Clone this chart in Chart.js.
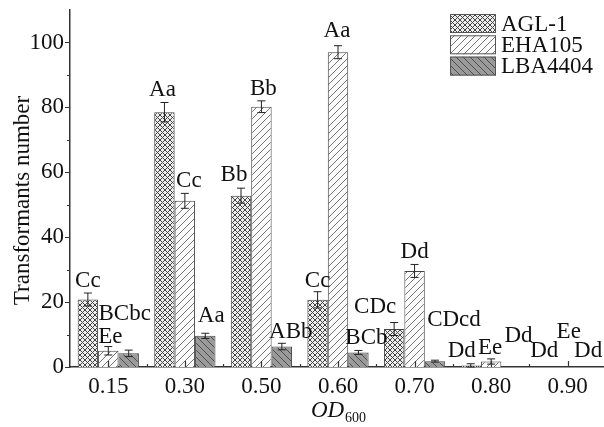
<!DOCTYPE html>
<html>
<head>
<meta charset="utf-8">
<script src="https://cdn.jsdelivr.net/npm/chart.js@4"></script>
<style>
  html, body { margin: 0; padding: 0; background: #fff; overflow: hidden; }
  #wrap { width: 606px; height: 427px; }
</style>
</head>
<body>
<div id="wrap"><canvas id="odChart"></canvas></div>
<script>
// OD600 values (x categories)
const categories = ['0.15', '0.30', '0.50', '0.60', '0.70', '0.80', '0.90'];

// transformants number, means and error bars
const aglValues = [20.8, 78.5, 52.8, 20.7, 11.7, 0.5, 0];
const aglErrors = [2.0, 3.0, 2.3, 2.5, 2.0, 0.5, 0];
const ehaValues = [5.0, 51.2, 80.2, 97.0, 29.6, 1.7, 0];
const ehaErrors = [1.3, 2.3, 1.8, 2.0, 2.0, 0.8, 0];
const lbaValues = [4.2, 9.6, 6.3, 4.5, 1.8, 0, 0];
const lbaErrors = [1.0, 0.8, 1.0, 0.6, 0.3, 0, 0];

// significance letters
const aglLetters = ['Cc', 'Aa', 'Bb', 'Cc', 'CDc', 'Dd', 'Dd'];
const ehaLetters = ['Ee', 'Cc', 'Bb', 'Aa', 'Dd', 'Ee', 'Ee'];
const lbaLetters = ['BCbc', 'Aa', 'ABb', 'BCb', 'CDcd', 'Dd', 'Dd'];

const yTicks = [0, 20, 40, 60, 80, 100];

// nudges for the letters (px), kept apart from the data
const letterNudge = [
  [[0, 0], [-2, 0], [-7, -1], [0, 1], [-19, -4], [-9, -1], [-3, -4]],
  [[2, 2], [4, 0], [2, 0], [-1, -3], [0, 0], [-1, 1], [1, -23]],
  [[-4, -24], [6, -5], [9, 1], [8, 0], [19, -28], [7, -19], [0, -4]]
];

const FONT = "'Liberation Serif', 'Times New Roman', serif";
const FS = 23;

function makePattern(bg, line, size, kind) {
  const c = document.createElement('canvas');
  c.width = c.height = size;
  const g = c.getContext('2d');
  g.fillStyle = bg;
  g.fillRect(0, 0, size, size);
  g.strokeStyle = line;
  g.lineWidth = 1;
  g.beginPath();
  if (kind === 'slash' || kind === 'cross') {
    g.moveTo(-1, size + 1); g.lineTo(size + 1, -1);
    g.moveTo(-1, 1); g.lineTo(1, -1);
    g.moveTo(size - 1, size + 1); g.lineTo(size + 1, size - 1);
  }
  if (kind === 'back' || kind === 'cross') {
    g.moveTo(-1, -1); g.lineTo(size + 1, size + 1);
    g.moveTo(size - 1, -1); g.lineTo(size + 1, 1);
    g.moveTo(-1, size - 1); g.lineTo(1, size + 1);
  }
  g.stroke();
  return g.createPattern(c, 'repeat');
}

const aglFill = makePattern('#eeeeee', '#444', 5, 'cross');
const ehaFill = makePattern('#fcfcfc', '#777', 7, 'slash');
const lbaFill = makePattern('#9a9a9a', '#4e4e4e', 7, 'back');

const errors = [aglErrors, ehaErrors, lbaErrors];
const letters = [aglLetters, ehaLetters, lbaLetters];

const extrasPlugin = {
  id: 'extras',
  afterDatasetsDraw(chart) {
    const ctx = chart.ctx;
    const y = chart.scales.y;
    const x = chart.scales.x;
    const area = chart.chartArea;
    ctx.save();

    // error bars
    ctx.strokeStyle = '#222';
    ctx.lineWidth = 1;
    chart.data.datasets.forEach((ds, di) => {
      const meta = chart.getDatasetMeta(di);
      meta.data.forEach((bar, i) => {
        const e = errors[di][i];
        const v = ds.data[i];
        if (!e) return;
        const top = y.getPixelForValue(v + e);
        const bot = y.getPixelForValue(Math.max(v - e, 0));
        ctx.beginPath();
        ctx.moveTo(bar.x, top); ctx.lineTo(bar.x, bot);
        ctx.moveTo(bar.x - 4, top); ctx.lineTo(bar.x + 4, top);
        ctx.moveTo(bar.x - 4, bot); ctx.lineTo(bar.x + 4, bot);
        ctx.stroke();
      });
    });

    // letters
    ctx.fillStyle = '#111';
    ctx.font = FS + 'px ' + FONT;
    ctx.textAlign = 'center';
    ctx.textBaseline = 'alphabetic';
    chart.data.datasets.forEach((ds, di) => {
      const meta = chart.getDatasetMeta(di);
      meta.data.forEach((bar, i) => {
        const v = ds.data[i] + errors[di][i];
        const [dx, dy] = letterNudge[di][i];
        ctx.fillText(letters[di][i], bar.x + dx, y.getPixelForValue(v) - 6 + dy);
      });
    });

    // axis ticks (y outward, x inward)
    ctx.strokeStyle = '#333';
    ctx.lineWidth = 1.2;
    ctx.beginPath();
    for (let v = 0; v <= 100; v += 10) {
      const py = Math.round(y.getPixelForValue(v)) + 0.5;
      const len = v % 20 === 0 ? 5 : 3;
      ctx.moveTo(area.left, py); ctx.lineTo(area.left - len, py);
    }
    for (let i = 0; i < categories.length; i++) {
      const cx = Math.round(x.getPixelForValue(i)) + 0.5;
      ctx.moveTo(cx, area.bottom); ctx.lineTo(cx, area.bottom - 6);
      if (i > 0) {
        const bx = Math.round((x.getPixelForValue(i) + x.getPixelForValue(i - 1)) / 2) + 0.5;
        ctx.moveTo(bx, area.bottom); ctx.lineTo(bx, area.bottom - 3);
      }
    }
    ctx.stroke();

    // axis titles
    ctx.fillStyle = '#111';
    ctx.textAlign = 'left';
    ctx.font = '14px ' + FONT;
    const subW = ctx.measureText('600').width;
    ctx.font = 'italic ' + FS + 'px ' + FONT;
    const odW = ctx.measureText('OD').width;
    const tx = (area.left + area.right) / 2 - (odW + subW) / 2;
    ctx.fillText('OD', tx, 417);
    ctx.font = '14px ' + FONT;
    ctx.fillText('600', tx + odW + 1, 422);

    ctx.save();
    ctx.translate(23, (area.top + area.bottom) / 2 + 12);
    ctx.rotate(-Math.PI / 2);
    ctx.textAlign = 'center';
    ctx.textBaseline = 'middle';
    ctx.font = FS + 'px ' + FONT;
    ctx.fillText('Transformants number', 0, 0);
    ctx.restore();

    // legend
    chart.data.datasets.forEach((ds, di) => {
      const by = 14 + di * 21.3;
      ctx.fillStyle = ds.backgroundColor;
      ctx.fillRect(450, by, 46, 19);
      ctx.strokeStyle = '#555';
      ctx.lineWidth = 1;
      ctx.strokeRect(450.5, by + 0.5, 45, 18);
      ctx.fillStyle = '#111';
      ctx.font = FS + 'px ' + FONT;
      ctx.textAlign = 'left';
      ctx.textBaseline = 'middle';
      ctx.fillText(ds.label, 501, by + 10.5);
    });

    ctx.restore();
  }
};

const zeroless = (ctx) => (ctx.raw ? 1 : 0);

new Chart(document.getElementById('odChart'), {
  type: 'bar',
  data: {
    labels: categories,
    datasets: [
      { label: 'AGL-1', data: aglValues, backgroundColor: aglFill, borderColor: '#444', borderWidth: zeroless },
      { label: 'EHA105', data: ehaValues, backgroundColor: ehaFill, borderColor: '#444', borderWidth: zeroless },
      { label: 'LBA4404', data: lbaValues, backgroundColor: lbaFill, borderColor: '#444', borderWidth: zeroless }
    ]
  },
  options: {
    responsive: true,
    maintainAspectRatio: false,
    animation: false,
    layout: { padding: { top: 10, left: 0, right: 0, bottom: 0 } },
    datasets: { bar: { categoryPercentage: 0.8, barPercentage: 1.0 } },
    plugins: { legend: { display: false }, tooltip: { enabled: false } },
    scales: {
      x: {
        grid: { display: false, drawTicks: false },
        border: { display: true, color: '#333', width: 1.5 },
        ticks: { color: '#111', padding: 6, font: { family: FONT, size: FS }, maxRotation: 0 },
        afterFit(scale) { scale.height = 60; scale.paddingLeft = 0; scale.paddingRight = 0; }
      },
      y: {
        min: 0,
        max: 110,
        grid: { display: false, drawTicks: false },
        border: { display: true, color: '#333', width: 1.5 },
        ticks: {
          stepSize: 10,
          padding: 6,
          color: '#111',
          font: { family: FONT, size: FS },
          callback: (v) => (yTicks.includes(v) ? String(v) : '')
        },
        afterFit(scale) { scale.width = 70; scale.paddingTop = 0; scale.paddingBottom = 0; }
      }
    }
  },
  plugins: [extrasPlugin]
});
</script>
</body>
</html>
